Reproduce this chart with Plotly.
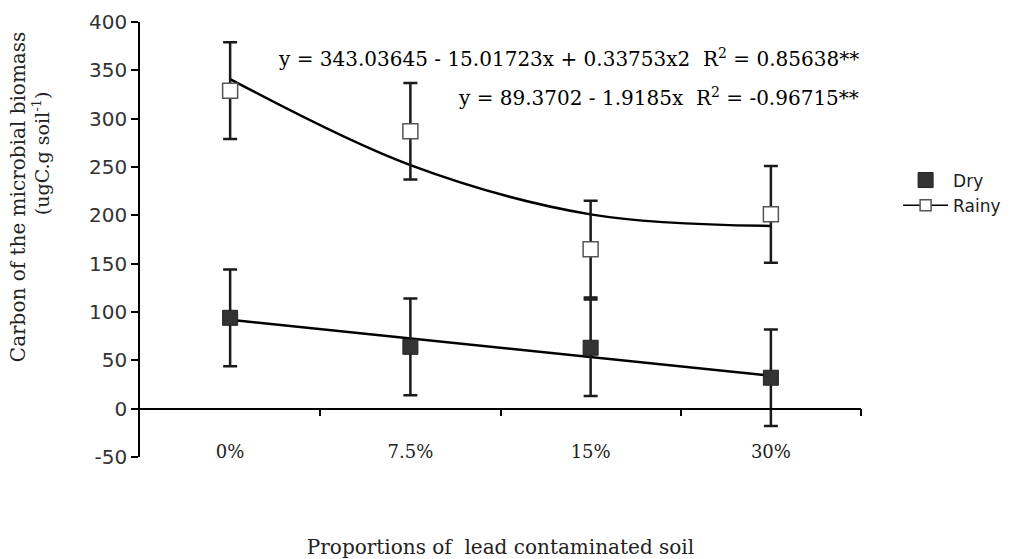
import plotly.graph_objects as go

# ---- data ----
categories = ["0%", "7.5%", "15%", "30%"]
dry_values = [94, 64, 63, 32]
dry_err = [50, 50, 50, 50]
rainy_values = [329, 287, 165, 201]
rainy_err = [50, 50, 50, 50]
dry_fit = [92, 72.5, 53.5, 34]          # linear trend line as drawn
rainy_fit = [341, 252, 201, 189]        # polynomial trend line as drawn
y_ticks = [-50, 0, 50, 100, 150, 200, 250, 300, 350, 400]
y_tick_text = ["-50", "0", "50", "100", "150", "200", "250", "300", "350", "400"]
eq_rainy = "y = 343.03645 - 15.01723x + 0.33753x2  R<sup>2</sup> = 0.85638**"
eq_dry = "y = 89.3702 - 1.9185x  R<sup>2</sup> = -0.96715**"
y_title_1 = "Carbon of the microbial biomass"
y_title_2 = "(ugC.g soil<sup>-1</sup>)"
x_title = "Proportions of  lead contaminated soil"

idx = list(range(len(categories)))
boundaries = [i + 0.5 for i in idx]

SERIF = "DejaVu Serif"
SANS = "DejaVu Sans"

fig = go.Figure()

# trend lines
fig.add_trace(go.Scatter(x=idx, y=rainy_fit, mode="lines",
                         line=dict(color="black", width=2.5, shape="spline"),
                         showlegend=False, hoverinfo="skip"))
fig.add_trace(go.Scatter(x=idx, y=dry_fit, mode="lines",
                         line=dict(color="black", width=2.5),
                         showlegend=False, hoverinfo="skip"))

err_style = dict(type="data", visible=True, color="#1a1a1a", thickness=2.5, width=7)

fig.add_trace(go.Scatter(x=idx, y=dry_values, mode="markers", name="Dry",
                         error_y=dict(array=dry_err, **err_style),
                         marker=dict(symbol="square", size=15, color="#333333",
                                     line=dict(color="#222222", width=1))))
fig.add_trace(go.Scatter(x=idx, y=rainy_values, mode="markers", name="Rainy",
                         showlegend=False,
                         error_y=dict(array=rainy_err, **err_style),
                         marker=dict(symbol="square", size=15, color="white",
                                     line=dict(color="#555555", width=1.5))))
# legend entry for Rainy (line + open square)
fig.add_trace(go.Scatter(x=[None], y=[None], mode="lines+markers", name="Rainy",
                         line=dict(color="black", width=1.5),
                         marker=dict(symbol="square", size=11, color="white",
                                     line=dict(color="#555555", width=1.5))))
# helper trace to attach the y=0 category axis
fig.add_trace(go.Scatter(x=[idx[0]], y=[0], xaxis="x2", mode="markers",
                         marker=dict(opacity=0), showlegend=False, hoverinfo="skip"))

fig.update_layout(
    width=1017, height=559,
    margin=dict(l=140, r=155, t=22, b=102),
    paper_bgcolor="white", plot_bgcolor="white",
    showlegend=True,
    legend=dict(x=1.05, y=0.677, xanchor="left", yanchor="top",
                font=dict(family=SANS, size=17, color="#222"),
                itemwidth=45,
                bgcolor="rgba(0,0,0,0)", tracegroupgap=0),
    xaxis=dict(range=[-0.5, 3.5], tickvals=idx, ticktext=categories,
               anchor="free", position=0.042, side="bottom",
               ticks="", showline=False, showgrid=False, zeroline=False,
               tickfont=dict(family=SERIF, size=18, color="#222"),
               title=dict(text=x_title, font=dict(family=SERIF, size=20, color="#222"),
                          standoff=81),
               automargin=False),
    xaxis2=dict(overlaying="x", anchor="free", position=50 / 450, side="bottom",
                range=[-0.5, 3.5], tickvals=boundaries, showticklabels=False,
                showline=True, linecolor="black", linewidth=1.5,
                ticks="outside", ticklen=7, tickwidth=1.5, tickcolor="black",
                showgrid=False, zeroline=False),
    yaxis=dict(range=[-50, 400], tickvals=y_ticks, ticktext=y_tick_text,
               showline=True,
               linecolor="black", linewidth=1.5, ticks="outside", ticklen=7,
               tickwidth=1.5, tickcolor="black", showgrid=False, zeroline=False,
               tickfont=dict(family=SANS, size=20, color="#333"),
               automargin=False),
    annotations=[
        dict(text=eq_rainy, xref="paper", yref="paper", x=1.0, y=(457 - 58) / 435,
             xanchor="right", yanchor="middle", showarrow=False,
             font=dict(family=SERIF, size=20, color="black")),
        dict(text=eq_dry, xref="paper", yref="paper", x=1.0, y=(457 - 97) / 435,
             xanchor="right", yanchor="middle", showarrow=False,
             font=dict(family=SERIF, size=20, color="black")),
        dict(text=y_title_1, xref="paper", yref="paper", x=-122 / 722, y=(457 - 197) / 435,
             xanchor="center", yanchor="middle", textangle=-90, showarrow=False,
             font=dict(family=SERIF, size=20, color="#222")),
        dict(text=y_title_2, xref="paper", yref="paper", x=-99 / 722, y=(457 - 153) / 435,
             xanchor="center", yanchor="middle", textangle=-90, showarrow=False,
             font=dict(family=SERIF, size=19, color="#222")),
    ],
)

fig.write_html("out.html", config={"displayModeBar": False},
               post_script="document.body.style.margin='0';")
